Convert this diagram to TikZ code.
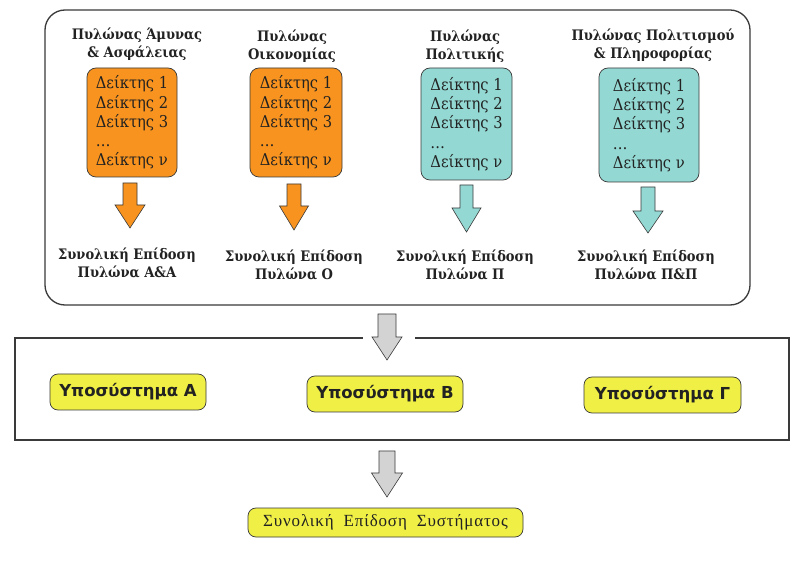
\documentclass[tikz,border=0pt]{standalone}
\usepackage{fontspec}
\setmainfont{DejaVu Serif Condensed}
\newfontfamily\gothic{DejaVu Sans}
\newfontfamily\narrowserif[LetterSpace=5]{Liberation Serif}
\definecolor{orangefill}{HTML}{F7931E}
\definecolor{tealfill}{HTML}{93D8D2}
\definecolor{yellowfill}{HTML}{EFEF45}
\definecolor{grayfill}{HTML}{D3D3D3}
\definecolor{ink}{HTML}{222222}
\definecolor{frame}{HTML}{3A3A3A}
% #1 fill, #2 centre x, #3 shaft half width, #4 head half width, #5 top y, #6 head start y, #7 tip y
\newcommand\blockarrow[7]{%
  \filldraw[fill=#1, draw=frame, line width=0.6pt]
    (#2-#3,#5) -- (#2+#3,#5) -- (#2+#3,#6) -- (#2+#4,#6) -- (#2,#7)
    -- (#2-#4,#6) -- (#2-#3,#6) -- cycle;}
\begin{document}
\begin{tikzpicture}[x=1pt,y=-1pt,
  pillartitle/.style={align=center, text=ink, font=\bfseries\fontsize{14.5}{18.5}\selectfont, inner sep=0pt},
  idxbox/.style={draw=frame, line width=0.7pt, rounded corners=9pt, align=left, text=ink,
     font=\fontsize{16.3}{19.25}\selectfont, inner sep=0pt},
  total/.style={align=center, text=ink, font=\bfseries\fontsize{14.5}{18.5}\selectfont, inner sep=0pt},
  subbox/.style={draw=frame, line width=0.7pt, fill=yellowfill, rounded corners=8pt,
     minimum width=156pt, minimum height=36pt, text=ink, font=\gothic\bfseries\fontsize{16.5}{20}\selectfont, inner sep=0pt},
]
\useasboundingbox (0,0) rectangle (804,561);
\fill[white] (0,0) rectangle (804,561);

% containers
\node[draw=frame, line width=1.3pt, rounded corners=20pt, minimum width=705pt, minimum height=295pt, inner sep=0pt] (pillars) at (397.5,157.5) {};
\node[draw=frame, line width=1.3pt, minimum width=774pt, minimum height=102pt, inner sep=0pt] (subsystems) at (402,389) {};
\fill[white] (363,335) rectangle (415,341);

% titles
\node[pillartitle] (t1) at (137,44) {Πυλώνας Άμυνας\\\& Ασφάλειας};
\node[pillartitle] (t2) at (292,46) {Πυλώνας\\Οικονομίας};
\node[pillartitle] (t3) at (465,46) {Πυλώνας\\Πολιτικής};
\node[pillartitle] (t4) at (653,45) {Πυλώνας Πολιτισμού\\\& Πληροφορίας};

% indicator boxes
\node[idxbox, fill=orangefill, minimum width=90pt, minimum height=109pt] (b1) at (132,122.5) {Δείκτης 1\\Δείκτης 2\\Δείκτης 3\\…\\Δείκτης ν};
\node[idxbox, fill=orangefill, minimum width=92pt, minimum height=109pt] (b2) at (296,122.5) {Δείκτης 1\\Δείκτης 2\\Δείκτης 3\\…\\Δείκτης ν};
\node[idxbox, fill=tealfill, minimum width=91pt, minimum height=112pt] (b3) at (466.5,124) {Δείκτης 1\\Δείκτης 2\\Δείκτης 3\\…\\Δείκτης ν};
\node[idxbox, fill=tealfill, minimum width=100pt, minimum height=114pt] (b4) at (649,125) {Δείκτης 1\\Δείκτης 2\\Δείκτης 3\\…\\Δείκτης ν};

% pillar totals
\node[total] (s1) at (127,263) {Συνολική Επίδοση\\Πυλώνα Α\&Α};
\node[total] (s2) at (294,265) {Συνολική Επίδοση\\Πυλώνα Ο};
\node[total] (s3) at (465,265) {Συνολική Επίδοση\\Πυλώνα Π};
\node[total] (s4) at (646,265) {Συνολική Επίδοση\\Πυλώνα Π\&Π};

% block arrows
\blockarrow{orangefill}{130}{7}{15}{183}{205}{228}
\blockarrow{orangefill}{294}{7}{14.5}{184}{206}{230}
\blockarrow{tealfill}{466.5}{6.5}{14.5}{185}{208}{232}
\blockarrow{tealfill}{648}{7}{15}{187}{211}{233}
\blockarrow{grayfill}{387}{9}{15}{314}{337}{360}
\blockarrow{grayfill}{387}{8}{15.5}{451}{473}{497}

% subsystems
\node[subbox] (sa) at (128,392) {Υποσύστημα Α};
\node[subbox] (sb) at (385,394) {Υποσύστημα Β};
\node[subbox, minimum width=157pt] (sg) at (662.5,395) {Υποσύστημα Γ};

% system total
\node[draw=frame, line width=0.7pt, fill=yellowfill, rounded corners=8pt, minimum width=275pt, minimum height=29pt, inner sep=0pt, text=ink,
  font=\narrowserif\fontsize{17}{18}\selectfont] (sys) at (385.5,522.5) {Συνολική\hspace{10pt}Επίδοση\hspace{10pt}Συστήματος};
\end{tikzpicture}
\end{document}
